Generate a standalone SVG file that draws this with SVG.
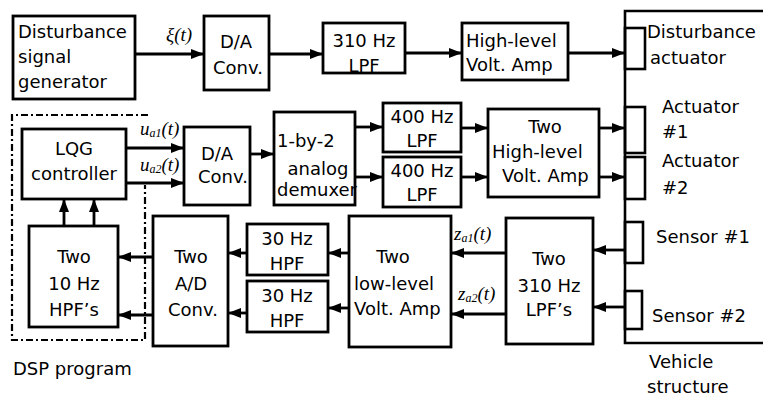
<svg xmlns="http://www.w3.org/2000/svg" width="763" height="400" viewBox="0 0 763 400">
<style>
.box{fill:#fff;stroke:#000;stroke-width:2.8}
.ln{fill:none;stroke:#000;stroke-width:2.8;marker-end:url(#ah)}
.vs{fill:none;stroke:#000;stroke-width:2.6}
.dsp{fill:none;stroke:#000;stroke-width:2.2;stroke-dasharray:7 3 2 3}
text{font-family:"DejaVu Sans","Liberation Sans",sans-serif;font-size:18px;fill:#000}
.c{text-anchor:middle}
.m{font-family:"Liberation Serif","DejaVu Serif",serif;font-style:italic;font-size:19px}
.s{font-size:12px}
</style>
<defs>
<marker id="ah" viewBox="0 0 13 10" refX="13" refY="5" markerWidth="13" markerHeight="10" markerUnits="userSpaceOnUse" orient="auto">
<path d="M0,0 L13,5 L0,10 z" fill="#000"/>
</marker>
</defs>

<g id="dsp-program">
<path class="dsp" d="M148,115 H12 V340 H145 V185"/>
<text x="13" y="375">DSP program</text>
</g>

<g id="disturbance-generator">
<rect class="box" x="13" y="16" width="122" height="83"/>
<text x="18" y="38">Disturbance</text>
<text x="18" y="63">signal</text>
<text x="18" y="88">generator</text>
</g>

<g id="da-conv-1">
<rect class="box" x="204" y="16" width="65" height="74"/>
<text x="236" y="48" class="c">D/A</text>
<text x="238" y="74" class="c">Conv.</text>
</g>

<g id="lpf-310">
<rect class="box" x="323" y="23" width="82" height="50"/>
<text x="364" y="47" class="c">310 Hz</text>
<text x="364" y="72" class="c">LPF</text>
</g>

<g id="high-level-amp">
<rect class="box" x="462" y="23" width="106" height="57"/>
<text x="466" y="47">High-level</text>
<text x="466" y="71">Volt. Amp</text>
</g>

<g id="vehicle-structure">
<path class="vs" d="M763,11 H625 V343 H763"/>
<rect class="vs" x="625" y="28" width="20" height="41"/>
<rect class="vs" x="625" y="107" width="20" height="46"/>
<rect class="vs" x="625" y="157" width="20" height="42"/>
<rect class="vs" x="625" y="222" width="18" height="41"/>
<rect class="vs" x="625" y="291" width="17" height="38"/>
<text x="647" y="38">Disturbance</text>
<text x="650" y="64">actuator</text>
<text x="662" y="113">Actuator</text>
<text x="662" y="138">#1</text>
<text x="662" y="167">Actuator</text>
<text x="662" y="194">#2</text>
<text x="656" y="243">Sensor #1</text>
<text x="652" y="322">Sensor #2</text>
<text x="649" y="368">Vehicle</text>
<text x="647" y="393">structure</text>
</g>

<g id="lqg-controller">
<rect class="box" x="22" y="129" width="104" height="70"/>
<text x="74" y="155" class="c">LQG</text>
<text x="74" y="180" class="c">controller</text>
</g>

<g id="da-conv-2">
<rect class="box" x="184" y="127" width="66" height="78"/>
<text x="217" y="160" class="c">D/A</text>
<text x="198" y="183">Conv.</text>
</g>

<g id="demuxer">
<rect class="box" x="274" y="112" width="81" height="93"/>
<text x="277" y="147">1-by-2</text>
<text x="318" y="175" class="c">analog</text>
<text x="277" y="196">demuxer</text>
</g>

<g id="lpf-400-1">
<rect class="box" x="383" y="103" width="78" height="49"/>
<text x="422" y="123" class="c">400 Hz</text>
<text x="422" y="147" class="c">LPF</text>
</g>

<g id="lpf-400-2">
<rect class="box" x="383" y="157" width="78" height="50"/>
<text x="422" y="177" class="c">400 Hz</text>
<text x="422" y="201" class="c">LPF</text>
</g>

<g id="two-high-level-amp">
<rect class="box" x="488" y="109" width="111" height="88"/>
<text x="545" y="133" class="c">Two</text>
<text x="492" y="158">High-level</text>
<text x="502" y="182">Volt. Amp</text>
</g>

<g id="two-lpf-310">
<rect class="box" x="506" y="218" width="87" height="126"/>
<text x="549" y="265" class="c">Two</text>
<text x="549" y="292" class="c">310 Hz</text>
<text x="549" y="316" class="c">LPF’s</text>
</g>

<g id="two-low-level-amp">
<rect class="box" x="349" y="216" width="102" height="131"/>
<text x="393" y="263" class="c">Two</text>
<text x="354" y="290">low-level</text>
<text x="354" y="315">Volt. Amp</text>
</g>

<g id="hpf-30-1">
<rect class="box" x="247" y="224" width="81" height="51"/>
<text x="287" y="245" class="c">30 Hz</text>
<text x="287" y="270" class="c">HPF</text>
</g>

<g id="hpf-30-2">
<rect class="box" x="247" y="281" width="81" height="51"/>
<text x="287" y="302" class="c">30 Hz</text>
<text x="287" y="327" class="c">HPF</text>
</g>

<g id="two-ad-conv">
<rect class="box" x="153" y="216" width="75" height="130"/>
<text x="191" y="263" class="c">Two</text>
<text x="191" y="290" class="c">A/D</text>
<text x="193" y="316" class="c">Conv.</text>
</g>

<g id="two-hpf-10">
<rect class="box" x="29" y="226" width="89" height="101"/>
<text x="74" y="263" class="c">Two</text>
<text x="74" y="290" class="c">10 Hz</text>
<text x="74" y="316" class="c">HPF’s</text>
</g>

<g id="connectors">
<path class="ln" d="M135,54 H204"/>
<path class="ln" d="M269,54 H323"/>
<path class="ln" d="M405,53 H462"/>
<path class="ln" d="M568,53 H625"/>
<path class="ln" d="M126,148 H184"/>
<path class="ln" d="M126,183 H184"/>
<path class="ln" d="M250,154 H274"/>
<path class="ln" d="M355,127 H383"/>
<path class="ln" d="M355,177 H383"/>
<path class="ln" d="M461,128 H488"/>
<path class="ln" d="M461,177 H488"/>
<path class="ln" d="M599,128 H625"/>
<path class="ln" d="M599,177 H625"/>
<path class="ln" d="M625,250 H593"/>
<path class="ln" d="M625,307 H593"/>
<path class="ln" d="M506,253 H451"/>
<path class="ln" d="M506,314 H451"/>
<path class="ln" d="M349,253 H328"/>
<path class="ln" d="M349,308 H328"/>
<path class="ln" d="M247,253 H228"/>
<path class="ln" d="M247,313 H228"/>
<path class="ln" d="M153,257 H118"/>
<path class="ln" d="M153,315 H118"/>
<path class="ln" d="M64,226 V199"/>
<path class="ln" d="M94,226 V199"/>
<text x="166" y="41" class="m">ξ(t)</text>
<text x="140" y="135" class="m">u<tspan class="s" dy="2">a1</tspan><tspan dy="-2">(t)</tspan></text>
<text x="140" y="171" class="m">u<tspan class="s" dy="2">a2</tspan><tspan dy="-2">(t)</tspan></text>
<text x="454" y="240" class="m">z<tspan class="s" dy="2">a1</tspan><tspan dy="-2">(t)</tspan></text>
<text x="458" y="300" class="m">z<tspan class="s" dy="2">a2</tspan><tspan dy="-2">(t)</tspan></text>
</g>
</svg>
